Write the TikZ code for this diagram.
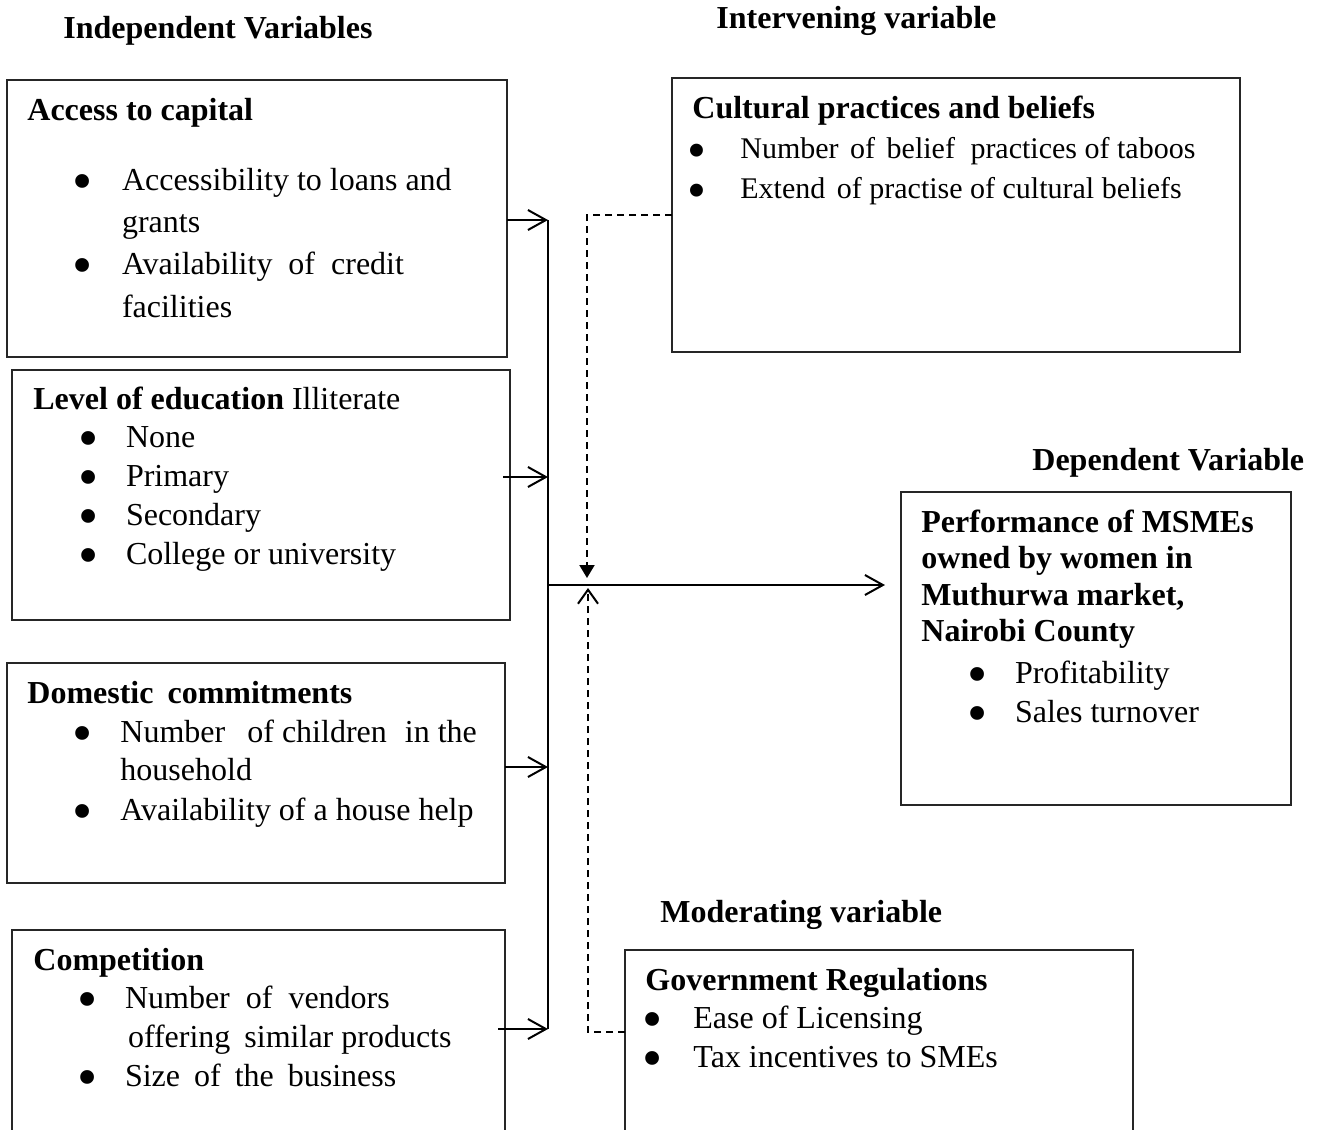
\documentclass[tikz,border=0pt]{standalone}
\usepackage{fontspec}
\usepackage{graphicx}
\setmainfont{Liberation Serif}
\usetikzlibrary{arrows.meta,positioning,calc}

% bullet list laid out as a two-column tabular (bullet | text)
\newlength{\itemgap}
\setlength{\itemgap}{16pt}
\newcommand{\bdot}{\makebox[5.6pt][c]{\smash{\raisebox{-5pt}{\scalebox{1.8}{\textbullet}}}}}
\newcommand{\itemrows}[2][1]{{\renewcommand{\arraystretch}{#1}%
  \begin{tabular}[t]{@{}l@{\hspace{\itemgap}}l@{}}#2\end{tabular}}}
\newcommand{\titlerows}[2][1]{{\renewcommand{\arraystretch}{#1}%
  \begin{tabular}[t]{@{}l@{}}#2\end{tabular}}}

\begin{document}
\begin{tikzpicture}[
  x=0.5pt, y=-0.5pt,
  font=\fontsize{16pt}{20pt}\selectfont,
  %% ─── styles ──────────────────────────────────────────
  varbox/.style={draw=black!85, line width=0.6pt, anchor=north west,
    inner sep=0pt, outer sep=0pt},
  heading/.style={font=\fontsize{16pt}{20pt}\selectfont\bfseries,
    anchor=base west, inner sep=0pt},
  boxtitle/.style={heading},
  items/.style={anchor=base west, inner sep=0pt},
  %% ─── connectors ──────────────────────────────────────
  arr/.style={-{Straight Barb[length=9pt,width=10pt]}, line width=1pt},
  busline/.style={line width=0.6pt},
  dashline/.style={line width=1pt, dash pattern=on 3.5pt off 2.5pt}
]
  \useasboundingbox (0,0) rectangle (1318,1130);
  \clip (0,0) rectangle (1318,1130);

  %% ════════════════════════════════════════════════════
  %%  headings
  %% ════════════════════════════════════════════════════
  \node[heading] (hind) at (63,38)   {Independent Variables};
  \node[heading] (hint) at (716,28)  {Intervening variable};
  \node[heading] (hdep) at (1032,470) {Dependent Variable};
  \node[heading] (hmod) at (660,922) {Moderating variable};

  %% ════════════════════════════════════════════════════
  %%  independent variables (left column)
  %% ════════════════════════════════════════════════════
  \node[varbox, minimum width=250pt, minimum height=138.5pt] (acc) at (7,80) {};
  \node[boxtitle] (acct) at (27,120) {Access to capital};
  \node[items] (accl) at (76.4,190) {\setlength{\itemgap}{17pt}\itemrows[1.06]{%
    \bdot & Accessibility to loans and\\
          & grants\\
    \bdot & Availability\hspace{4pt} of\hspace{4pt} credit\\
          & facilities}};

  \node[varbox, minimum width=249pt, minimum height=125pt] (edu) at (12,370) {};
  \node[boxtitle] (edut) at (33,409) {Level of education \textmd{Illiterate}};
  \node[items] (edul) at (82.4,447) {\itemrows[0.98]{%
    \bdot & None\\
    \bdot & Primary\\
    \bdot & Secondary\\
    \bdot & College or university}};

  \node[varbox, minimum width=249pt, minimum height=110pt] (dom) at (7,663) {};
  \node[boxtitle] (domt) at (27,703) {Domestic\hspace{3pt} commitments};
  \node[items] (doml) at (76.9,742) {\itemrows[0.95]{%
    \bdot & Number\hspace{7pt} of children\hspace{5pt} in the\\
          & household\\[1pt]
    \bdot & Availability of a house help}};

  \node[varbox, minimum width=246.5pt, minimum height=130pt] (comp) at (12,930) {};
  \node[boxtitle] (compt) at (33,970) {Competition};
  \node[items] (compl) at (81.4,1008) {\itemrows[0.975]{%
    \bdot & Number\hspace{4pt} of\hspace{4pt} vendors\\
          & \hspace{1.5pt}offering\hspace{3pt} similar products\\
    \bdot & Size\hspace{3pt} of\hspace{3pt} the\hspace{3pt} business}};

  %% ════════════════════════════════════════════════════
  %%  intervening / dependent / moderating
  %% ════════════════════════════════════════════════════
  \node[varbox, minimum width=284pt, minimum height=137pt] (cult) at (672,78) {};
  \node[boxtitle] (cultt) at (692,118) {Cultural practices and beliefs};
  \node[items, font=\fontsize{15pt}{20pt}\selectfont] (cultl) at (691.4,158)
    {\setlength{\itemgap}{18.7pt}\itemrows[1]{%
    \bdot & Number\hspace{2pt} of\hspace{2pt} belief\hspace{4pt} practices of taboos\\
    \bdot & Extend\hspace{2pt} of practise of cultural beliefs}};

  \node[varbox, minimum width=195pt, minimum height=156.5pt] (perf) at (901,492) {};
  \node[boxtitle] (perft) at (921,532) {\titlerows[0.915]{%
    Performance of MSMEs\\
    owned by women in\\
    Muthurwa market,\\
    Nairobi County}};
  \node[items] (perfl) at (971.4,683) {\itemrows[0.975]{%
    \bdot & Profitability\\
    \bdot & Sales turnover}};

  \node[varbox, minimum width=254pt, minimum height=130pt] (gov) at (625,950) {};
  \node[boxtitle] (govt) at (645,990) {Government Regulations};
  \node[items] (govl) at (646.4,1028) {\setlength{\itemgap}{17.7pt}\itemrows[0.975]{%
    \bdot & Ease of Licensing\\
    \bdot & Tax incentives to SMEs}};

  %% ════════════════════════════════════════════════════
  %%  connectors
  %% ════════════════════════════════════════════════════
  \coordinate (bus1) at (548,220);
  \coordinate (bus2) at (548,477);
  \coordinate (bus3) at (548,767);
  \coordinate (bus4) at (548,1029);
  \coordinate (hub)  at (548,585);
  \coordinate (midtop) at (587,578);
  \coordinate (midbot) at (588,588);

  \draw[busline] (bus1) -- (bus4);
  \draw[arr] (acc.east |- bus1) -- (bus1);
  \draw[arr] ([xshift=-3.5pt]edu.east |- bus2) -- (bus2);
  \draw[arr] (dom.east |- bus3) -- (bus3);
  \draw[arr] ([xshift=-3.5pt]comp.east |- bus4) -- (bus4);

  % main flow to the dependent variable
  \draw[arr] (hub) -- ([xshift=-8pt]perf.west |- hub);

  % intervening variable (dashed, from above)
  \draw[dashline, -{Triangle[length=6.5pt,width=7.5pt]}] (cult.west) -| (midtop);

  % moderating variable (dashed, from below)
  \draw[dashline, -{Straight Barb[length=7pt,width=10pt,line width=1pt]}]
    ([yshift=-41pt]gov.north west) -| (midbot);

\end{tikzpicture}
\end{document}
